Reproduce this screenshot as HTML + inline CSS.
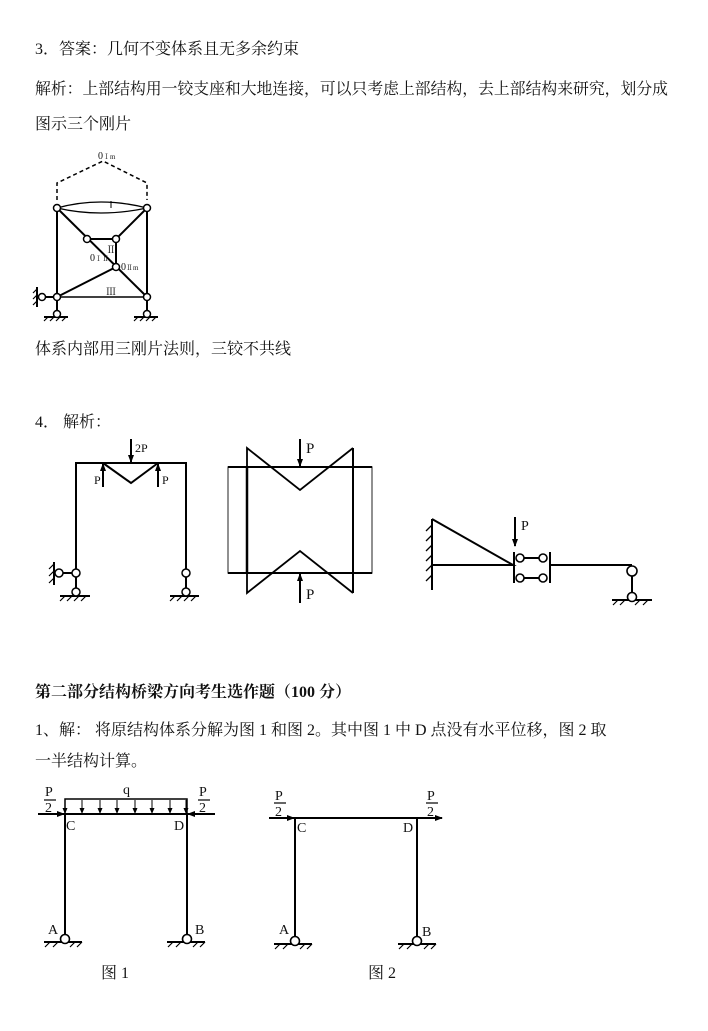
<!DOCTYPE html>
<html><head><meta charset="utf-8"><style>
html,body{margin:0;padding:0;background:#fff;}
svg{display:block}
.t{font-family:"Liberation Serif","Noto Serif CJK SC",serif;font-size:16px;fill:#111}
.s{font-family:"Liberation Serif","Noto Serif CJK SC",serif;fill:#111}
</style></head><body>
<svg width="708" height="1031" viewBox="0 0 708 1031" xmlns="http://www.w3.org/2000/svg">
<defs>
<marker id="ah" markerWidth="8" markerHeight="8" refX="7" refY="4" orient="auto" markerUnits="userSpaceOnUse"><path d="M0,1 L8,4 L0,7 Z" fill="#000"/></marker>
<marker id="as" markerWidth="6" markerHeight="6" refX="5" refY="3" orient="auto" markerUnits="userSpaceOnUse"><path d="M0,0.5 L6,3 L0,5.5 Z" fill="#000"/></marker>
</defs>
<text class="t" x="35" y="54">3．答案：几何不变体系且无多余约束</text>
<text class="t" x="35" y="94" textLength="633" lengthAdjust="spacingAndGlyphs">解析：上部结构用一铰支座和大地连接，可以只考虑上部结构，去上部结构来研究，划分成</text>
<text class="t" x="35" y="129">图示三个刚片</text>

<!-- Figure 1 -->
<g stroke="#000" fill="none" stroke-width="2">
<path d="M57,200 L57,183 L103,161 L147,183 L147,200" stroke-dasharray="4,3" stroke-width="1.5"/>
<path d="M57,208 Q100,196 147,208 Q100,218 57,208" stroke-width="1.3"/>
<line x1="111" y1="201" x2="111" y2="208" stroke-width="1"/>
<line x1="57" y1="208" x2="57" y2="297"/>
<line x1="147" y1="208" x2="147" y2="297"/>
<line x1="57" y1="297" x2="147" y2="297" stroke-width="1.5"/>
<line x1="57" y1="208" x2="147" y2="297"/>
<line x1="147" y1="208" x2="116" y2="239"/>
<line x1="87" y1="239" x2="116" y2="239"/>
<line x1="116" y1="239" x2="116" y2="267"/>
<line x1="116" y1="267" x2="57" y2="297"/>
<line x1="42" y1="297" x2="57" y2="297"/>
<line x1="57" y1="297" x2="57" y2="313"/>
<line x1="147" y1="297" x2="147" y2="313"/>
<line x1="37" y1="287" x2="37" y2="307"/>
<path d="M37,289 l-4,4 M37,295 l-4,4 M37,301 l-4,4" stroke-width="1.2"/>
<line x1="44" y1="317" x2="68" y2="317"/>
<path d="M48,317 l-4,4 M54,317 l-4,4 M60,317 l-4,4 M66,317 l-4,4" stroke-width="1.2"/>
<line x1="134" y1="317" x2="158" y2="317"/>
<path d="M138,317 l-4,4 M144,317 l-4,4 M150,317 l-4,4 M156,317 l-4,4" stroke-width="1.2"/>
</g>
<g stroke="#000" stroke-width="1.5" fill="#fff">
<circle cx="57" cy="208" r="3.5"/><circle cx="147" cy="208" r="3.5"/>
<circle cx="87" cy="239" r="3.5"/><circle cx="116" cy="239" r="3.5"/>
<circle cx="116" cy="267" r="3.5"/>
<circle cx="57" cy="297" r="3.5"/><circle cx="147" cy="297" r="3.5"/>
<circle cx="42" cy="297" r="3.5"/>
<circle cx="57" cy="314" r="3.5"/><circle cx="147" cy="314" r="3.5"/>
</g>
<text class="s" x="98" y="159" font-size="10">0<tspan font-size="7">Ⅰm</tspan></text>
<text class="s" x="90" y="261" font-size="10">0<tspan font-size="7">ⅠⅡ</tspan></text>
<text class="s" x="106" y="253" font-size="10">Ⅱ</text>
<text class="s" x="121" y="270" font-size="10">0<tspan font-size="7">Ⅱm</tspan></text>
<text class="s" x="106" y="295" font-size="10">Ⅲ</text>

<text class="t" x="35" y="354">体系内部用三刚片法则，三铰不共线</text>
<text class="t" x="35" y="427">4．  解析：</text>

<!-- Figure 4a -->
<g stroke="#000" fill="none" stroke-width="2">
<path d="M76,573 L76,463 L186,463 L186,573"/>
<path d="M103,463 L131,483 L158,463"/>
<line x1="131" y1="439" x2="131" y2="462" marker-end="url(#ah)"/>
<line x1="103" y1="487" x2="103" y2="464" marker-end="url(#ah)"/>
<line x1="158" y1="487" x2="158" y2="464" marker-end="url(#ah)"/>
<line x1="59" y1="573" x2="76" y2="573"/>
<line x1="76" y1="573" x2="76" y2="592"/>
<line x1="186" y1="573" x2="186" y2="592"/>
<line x1="54" y1="562" x2="54" y2="585"/>
<path d="M54,564 l-5,5 M54,571 l-5,5 M54,578 l-5,5" stroke-width="1.2"/>
<line x1="60" y1="596" x2="90" y2="596"/>
<path d="M65,596 l-5,5 M72,596 l-5,5 M79,596 l-5,5 M86,596 l-5,5" stroke-width="1.2"/>
<line x1="170" y1="596" x2="199" y2="596"/>
<path d="M175,596 l-5,5 M182,596 l-5,5 M189,596 l-5,5 M196,596 l-5,5" stroke-width="1.2"/>
</g>
<g stroke="#000" stroke-width="1.5" fill="#fff">
<circle cx="76" cy="573" r="4"/><circle cx="59" cy="573" r="4"/><circle cx="76" cy="592" r="4"/>
<circle cx="186" cy="573" r="4"/><circle cx="186" cy="592" r="4"/>
</g>
<text class="s" x="135" y="452" font-size="12">2P</text>
<text class="s" x="94" y="484" font-size="12">P</text>
<text class="s" x="162" y="484" font-size="12">P</text>

<!-- Figure 4b -->
<g stroke="#000" fill="none">
<rect x="228" y="467" width="144" height="106" stroke="#555" stroke-width="1.3"/>
<line x1="228" y1="467" x2="372" y2="467" stroke-width="2"/>
<line x1="228" y1="573" x2="372" y2="573" stroke-width="2"/>
<line x1="247" y1="467" x2="247" y2="573" stroke-width="2.5"/>
<line x1="353" y1="448" x2="353" y2="593" stroke-width="2"/>
<path d="M247,467 L247,448 L300,490 L353,448" stroke-width="1.8"/>
<path d="M247,573 L247,593 L300,551 L353,593" stroke-width="1.8"/>
<line x1="300" y1="439" x2="300" y2="466" stroke-width="2" marker-end="url(#ah)"/>
<line x1="300" y1="603" x2="300" y2="574" stroke-width="2" marker-end="url(#ah)"/>
</g>
<text class="s" x="306" y="453" font-size="15">P</text>
<text class="s" x="306" y="599" font-size="15">P</text>

<!-- Figure 4c -->
<g stroke="#000" fill="none" stroke-width="2">
<path d="M432,519 L432,590"/>
<path d="M432,519 L513,565 L432,565"/>
<path d="M432,525 l-6,6 M432,535 l-6,6 M432,545 l-6,6 M432,555 l-6,6 M432,565 l-6,6 M432,575 l-6,6" stroke-width="1.3"/>
<line x1="514" y1="552" x2="514" y2="583"/>
<line x1="550" y1="552" x2="550" y2="583"/>
<line x1="520" y1="558" x2="543" y2="558"/>
<line x1="520" y1="578" x2="543" y2="578"/>
<line x1="550" y1="565" x2="632" y2="565"/>
<line x1="632" y1="571" x2="632" y2="597"/>
<line x1="612" y1="600" x2="652" y2="600"/>
<path d="M618,600 l-5,5 M625,600 l-5,5 M640,600 l-5,5 M648,600 l-5,5" stroke-width="1.2"/>
<line x1="515" y1="517" x2="515" y2="546" marker-end="url(#ah)"/>
</g>
<g stroke="#000" stroke-width="1.6" fill="#fff">
<circle cx="520" cy="558" r="4"/><circle cx="543" cy="558" r="4"/>
<circle cx="520" cy="578" r="4"/><circle cx="543" cy="578" r="4"/>
<circle cx="632" cy="571" r="5"/><circle cx="632" cy="597" r="4.5"/>
</g>
<text class="s" x="521" y="530" font-size="14">P</text>

<text class="t" x="35" y="697" font-weight="bold">第二部分结构桥梁方向考生选作题（100 分）</text>
<text class="t" x="35" y="735">1、解： 将原结构体系分解为图 1 和图 2。其中图 1 中 D 点没有水平位移，图 2 取</text>
<text class="t" x="35" y="766">一半结构计算。</text>

<!-- Fig 1 bottom -->
<g stroke="#000" fill="none" stroke-width="2">
<path d="M65,938 L65,814 L187,814 L187,938"/>
<path d="M65,813 L65,799 L187,799 L187,813" stroke-width="1.5"/>
<g stroke-width="1">
<line x1="65" y1="800" x2="65" y2="813" marker-end="url(#as)"/>
<line x1="82" y1="800" x2="82" y2="813" marker-end="url(#as)"/>
<line x1="100" y1="800" x2="100" y2="813" marker-end="url(#as)"/>
<line x1="117" y1="800" x2="117" y2="813" marker-end="url(#as)"/>
<line x1="135" y1="800" x2="135" y2="813" marker-end="url(#as)"/>
<line x1="152" y1="800" x2="152" y2="813" marker-end="url(#as)"/>
<line x1="170" y1="800" x2="170" y2="813" marker-end="url(#as)"/>
<line x1="186" y1="800" x2="186" y2="813" marker-end="url(#as)"/>
</g>
<line x1="38" y1="814" x2="64" y2="814" marker-end="url(#ah)"/>
<line x1="215" y1="814" x2="188" y2="814" marker-end="url(#ah)"/>
<line x1="44" y1="942" x2="82" y2="942"/>
<path d="M50,942 l-5,5 M58,942 l-5,5 M75,942 l-5,5 M82,942 l-5,5" stroke-width="1.2"/>
<line x1="167" y1="942" x2="205" y2="942"/>
<path d="M173,942 l-5,5 M181,942 l-5,5 M198,942 l-5,5 M205,942 l-5,5" stroke-width="1.2"/>
<!-- Fig 2 -->
<path d="M295,940 L295,818 L417,818 L417,940"/>
<line x1="417" y1="818" x2="442" y2="818" marker-end="url(#ah)"/>
<line x1="269" y1="818" x2="294" y2="818" marker-end="url(#ah)"/>
<line x1="274" y1="944" x2="312" y2="944"/>
<path d="M280,944 l-5,5 M288,944 l-5,5 M305,944 l-5,5 M312,944 l-5,5" stroke-width="1.2"/>
<line x1="398" y1="944" x2="436" y2="944"/>
<path d="M404,944 l-5,5 M412,944 l-5,5 M429,944 l-5,5 M436,944 l-5,5" stroke-width="1.2"/>
</g>
<g stroke="#000" stroke-width="1.6" fill="#fff">
<circle cx="65" cy="939" r="4.5"/><circle cx="187" cy="939" r="4.5"/>
<circle cx="295" cy="941" r="4.5"/><circle cx="417" cy="941" r="4.5"/>
</g>
<g class="s" font-size="14">
<text x="45" y="796">P</text><line x1="44" y1="800" x2="56" y2="800" stroke="#000" stroke-width="1.2"/><text x="45" y="812">2</text>
<text x="199" y="796">P</text><line x1="198" y1="800" x2="210" y2="800" stroke="#000" stroke-width="1.2"/><text x="199" y="812">2</text>
<text x="123" y="794">q</text>
<text x="66" y="830">C</text><text x="174" y="830">D</text>
<text x="48" y="934">A</text><text x="195" y="934">B</text>
<text x="275" y="800">P</text><line x1="274" y1="803" x2="286" y2="803" stroke="#000" stroke-width="1.2"/><text x="275" y="816">2</text>
<text x="427" y="800">P</text><line x1="426" y1="803" x2="438" y2="803" stroke="#000" stroke-width="1.2"/><text x="427" y="816">2</text>
<text x="297" y="832">C</text><text x="403" y="832">D</text>
<text x="279" y="934">A</text><text x="422" y="936">B</text>
</g>
<text class="t" x="101" y="978">图 1</text>
<text class="t" x="368" y="978">图 2</text>
</svg>
</body></html>
